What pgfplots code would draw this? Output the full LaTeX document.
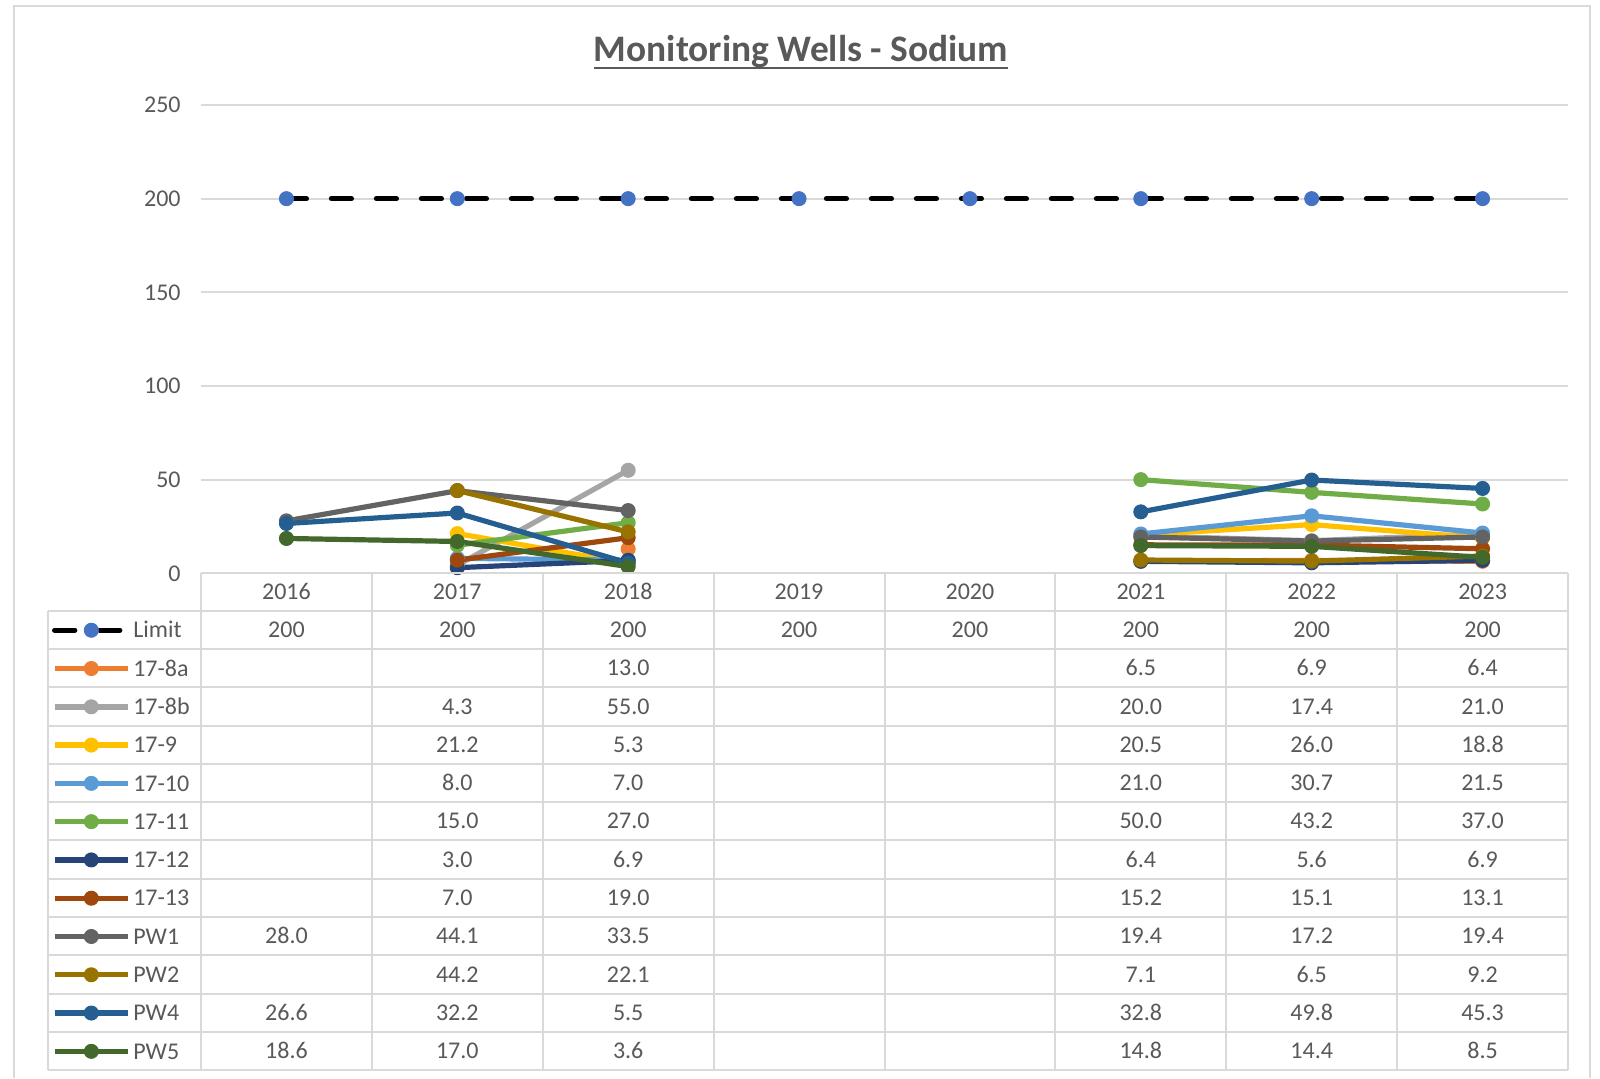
\documentclass[border=0pt]{standalone}
\usepackage{fontspec}
\setmainfont{Carlito}
\usepackage{pgfplots}
\pgfplotsset{compat=1.18}
\definecolor{txt}{HTML}{595959}
\definecolor{gridc}{HTML}{D9D9D9}
\definecolor{limblue}{HTML}{4472C4}
\definecolor{cA}{HTML}{ED7D31}
\definecolor{cB}{HTML}{A5A5A5}
\definecolor{cC}{HTML}{FFC000}
\definecolor{cD}{HTML}{5B9BD5}
\definecolor{cE}{HTML}{70AD47}
\definecolor{cF}{HTML}{264478}
\definecolor{cG}{HTML}{9E480E}
\definecolor{cH}{HTML}{636363}
\definecolor{cI}{HTML}{997300}
\definecolor{cJ}{HTML}{255E91}
\definecolor{cK}{HTML}{43682B}
\newcommand\cell[3]{\node[tbl] at ({201+170.875*(#1+0.5)},{1078-610.7-38.28*(#2+0.5)}) {#3};}
\newcommand\trow[9]{\cell{0}{#1}{#2}\cell{1}{#1}{#3}\cell{2}{#1}{#4}\cell{3}{#1}{#5}\cell{4}{#1}{#6}\cell{5}{#1}{#7}\cell{6}{#1}{#8}\cell{7}{#1}{#9}}
\pgfplotsset{
  ser/.style={color=#1, solid, line width=2.6pt, line join=round, mark=*, mark size=3.5pt,
    mark options={solid, line width=0.5pt, fill=#1, draw=#1}},
}
\begin{document}
\begin{tikzpicture}[x=0.5pt,y=0.5pt,
  tbl/.style={font=\fontsize{12}{14}\selectfont, text=txt, inner sep=0pt, text height=7.7pt, text depth=0pt, anchor=center}]
\useasboundingbox (0,0) rectangle (1600,1078);
\fill[white] (0,0) rectangle (1600,1078);
\draw[gridc, line width=1pt] (14,0) -- (14,1072) -- (1590,1072) -- (1590,0);
\begin{axis}[
  at={(100.5pt,252.35pt)}, anchor=south west,
  scale only axis, width=683.5pt, height=234.15pt,
  xmin=-0.5, xmax=7.5, ymin=0, ymax=250,
  xtick=\empty, ytick={0,50,100,150,200,250},
  ymajorgrids, grid style={draw=gridc, line width=1pt},
  axis line style={draw=none}, major tick length=0pt,
  yticklabel style={font=\fontsize{12}{14}\selectfont, text=txt, anchor=east, inner sep=0pt, xshift=-10pt},
  /pgf/number format/assume math mode=true,
  clip=false,
  unbounded coords=jump,
  legend cell align=left,
  legend style={at={(-0.11214,-0.07986)}, anchor=north west, draw=none, fill=none,
    inner sep=0pt, row sep=0pt, column sep=0pt, cells={anchor=west},
    nodes={inner sep=0pt, text height=13.44pt, text depth=5.7pt, font=\fontsize{12}{14}\selectfont, text=txt}},
  legend image code/.code={
    \path (0pt,0pt) (40pt,0pt);
    \draw[mark repeat=2, mark phase=2, #1, line width=2.7pt] plot coordinates {(2pt,0pt) (20.3pt,0pt) (38.6pt,0pt)};
  },
]
\addplot[black, line width=2.6pt, dash pattern=on 10pt off 12.5pt, line cap=round, mark=*, mark size=3.5pt,
  mark options={solid, line width=0.5pt, fill=limblue, draw=limblue}]
  coordinates {(0,200) (1,200) (2,200) (3,200) (4,200) (5,200) (6,200) (7,200)};
\addlegendentry{Limit}
\addplot[ser=cA] coordinates {(0,nan) (1,nan) (2,13.0) (3,nan) (4,nan) (5,6.5) (6,6.9) (7,6.4)};
\addlegendentry{17-8a}
\addplot[ser=cB] coordinates {(0,nan) (1,4.3) (2,55.0) (3,nan) (4,nan) (5,20.0) (6,17.4) (7,21.0)};
\addlegendentry{17-8b}
\addplot[ser=cC] coordinates {(0,nan) (1,21.2) (2,5.3) (3,nan) (4,nan) (5,20.5) (6,26.0) (7,18.8)};
\addlegendentry{17-9}
\addplot[ser=cD] coordinates {(0,nan) (1,8.0) (2,7.0) (3,nan) (4,nan) (5,21.0) (6,30.7) (7,21.5)};
\addlegendentry{17-10}
\addplot[ser=cE] coordinates {(0,nan) (1,15.0) (2,27.0) (3,nan) (4,nan) (5,50.0) (6,43.2) (7,37.0)};
\addlegendentry{17-11}
\addplot[ser=cF] coordinates {(0,nan) (1,3.0) (2,6.9) (3,nan) (4,nan) (5,6.4) (6,5.6) (7,6.9)};
\addlegendentry{17-12}
\addplot[ser=cG] coordinates {(0,nan) (1,7.0) (2,19.0) (3,nan) (4,nan) (5,15.2) (6,15.1) (7,13.1)};
\addlegendentry{17-13}
\addplot[ser=cH] coordinates {(0,28.0) (1,44.1) (2,33.5) (3,nan) (4,nan) (5,19.4) (6,17.2) (7,19.4)};
\addlegendentry{PW1}
\addplot[ser=cI] coordinates {(0,nan) (1,44.2) (2,22.1) (3,nan) (4,nan) (5,7.1) (6,6.5) (7,9.2)};
\addlegendentry{PW2}
\addplot[ser=cJ] coordinates {(0,26.6) (1,32.2) (2,5.5) (3,nan) (4,nan) (5,32.8) (6,49.8) (7,45.3)};
\addlegendentry{PW4}
\addplot[ser=cK] coordinates {(0,18.6) (1,17.0) (2,3.6) (3,nan) (4,nan) (5,14.8) (6,14.4) (7,8.5)};
\addlegendentry{PW5}
\end{axis}
% table grid
\begin{scope}[gridc, line width=1pt]
\draw (201,504.7) -- (1568,504.7);
\foreach \k in {0,...,12} {
  \pgfmathsetmacro\yy{1078-610.7-38.28*\k}
  \draw (47.7,\yy) -- (1568,\yy);
}
\draw (47.7,467.3) -- (47.7,8);
\foreach \c in {0,...,8} {
  \pgfmathsetmacro\xx{201+170.875*\c}
  \draw (\xx,504.7) -- (\xx,8);
}
\end{scope}
\foreach \yr [count=\c from 0] in {2016,2017,2018,2019,2020,2021,2022,2023} {
  \node[tbl] at ({201+170.875*(\c+0.5)},486) {\yr};
}
\trow{0}{200}{200}{200}{200}{200}{200}{200}{200}
\trow{1}{}{}{13.0}{}{}{6.5}{6.9}{6.4}
\trow{2}{}{4.3}{55.0}{}{}{20.0}{17.4}{21.0}
\trow{3}{}{21.2}{5.3}{}{}{20.5}{26.0}{18.8}
\trow{4}{}{8.0}{7.0}{}{}{21.0}{30.7}{21.5}
\trow{5}{}{15.0}{27.0}{}{}{50.0}{43.2}{37.0}
\trow{6}{}{3.0}{6.9}{}{}{6.4}{5.6}{6.9}
\trow{7}{}{7.0}{19.0}{}{}{15.2}{15.1}{13.1}
\trow{8}{28.0}{44.1}{33.5}{}{}{19.4}{17.2}{19.4}
\trow{9}{}{44.2}{22.1}{}{}{7.1}{6.5}{9.2}
\trow{10}{26.6}{32.2}{5.5}{}{}{32.8}{49.8}{45.3}
\trow{11}{18.6}{17.0}{3.6}{}{}{14.8}{14.4}{8.5}
% title
\node[anchor=base, inner sep=0pt, font=\fontsize{18.7}{22}\selectfont\bfseries, text=txt] (T) at (801,1016.7) {Monitoring Wells - Sodium};
\draw[txt, line width=1pt] ([yshift=-3.2pt]T.base west) -- ([yshift=-3.2pt]T.base east);
\end{tikzpicture}
\end{document}
